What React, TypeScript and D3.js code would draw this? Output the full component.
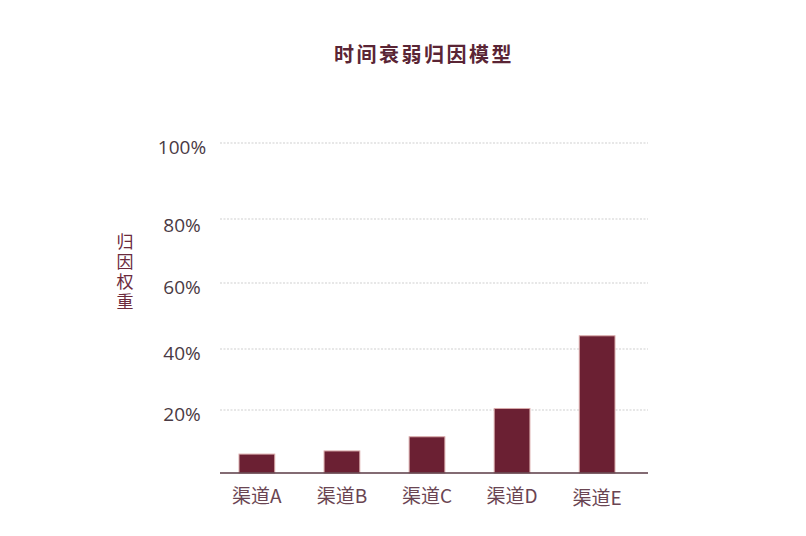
import React from 'react'
import { scaleBand, scaleLinear } from 'd3'

// channel weights under the time-decay attribution model
const channels: string[] = ['渠道A', '渠道B', '渠道C', '渠道D', '渠道E']
const weights: number[] = [6, 7, 11.5, 20.5, 44]
const yTicks: number[] = [20, 40, 60, 80, 100]

const width = 806
const height = 536

const gridLeft = 220
const gridRight = 648
// gridlines in the original are not evenly spaced, so the scale is piecewise
const yScale = scaleLinear()
    .domain([0, 20, 40, 60, 80, 100])
    .range([473, 410, 349, 283, 219, 143])

const xScale = scaleBand()
    .domain(channels)
    .range([222, 632])
    .paddingInner(0.58)
    .paddingOuter(0.2)

const barFill = '#6b2033'
const textColor = '#4a3a44'

export default function App() {
    return (
        <svg width={width} height={height} style={{ display: 'block', position: 'absolute', left: 0, top: 0 }}>
            <rect width={width} height={height} fill='#fff' />
            <text
                x={424}
                y={53}
                textAnchor='middle'
                dominantBaseline='central'
                fontFamily='"Noto Sans CJK SC", sans-serif'
                fontWeight='bold'
                fontSize={20}
                letterSpacing={2.5}
                fill='#5a2535'
            >
                时间衰弱归因模型
            </text>

            {/* gridlines and tick labels */}
            {yTicks.map((t) => (
                <g key={t}>
                    <line
                        x1={gridLeft}
                        x2={gridRight}
                        y1={yScale(t)}
                        y2={yScale(t)}
                        stroke='#cfcfcf'
                        strokeWidth={1}
                        strokeDasharray='2,1.5'
                    />
                    <text
                        x={182}
                        y={yScale(t) + (t === 80 ? 6 : 4)}
                        textAnchor='middle'
                        dominantBaseline='central'
                        fontFamily='"Open Sans", sans-serif'
                        fontSize={19}
                        fill={textColor}
                    >
                        {t}%
                    </text>
                </g>
            ))}

            {/* y axis title, written top to bottom */}
            <text
                x={125}
                y={233}
                fontFamily='"Noto Sans CJK SC", sans-serif'
                fontSize={17}
                letterSpacing={3}
                fill='#6b2a3c'
                style={{ writingMode: 'vertical-rl' }}
            >
                归因权重
            </text>

            {/* bars */}
            {channels.map((c, i) => (
                <rect
                    key={c}
                    x={xScale(c)}
                    y={yScale(weights[i])}
                    width={xScale.bandwidth()}
                    height={yScale(0) - yScale(weights[i])}
                    fill={barFill}
                    stroke='#d9a9a9'
                    strokeWidth={1}
                />
            ))}

            <line x1={gridLeft} x2={gridRight} y1={yScale(0)} y2={yScale(0)} stroke='#5a3a45' strokeWidth={1.5} />

            {/* category labels */}
            {channels.map((c, i) => (
                <text
                    key={c}
                    x={(xScale(c) ?? 0) + xScale.bandwidth() / 2}
                    y={494 + (i === 4 ? 2 : 0)}
                    textAnchor='middle'
                    dominantBaseline='central'
                    fontFamily='"Noto Sans CJK SC", sans-serif'
                    fontSize={19}
                    fill='#6a4552'
                >
                    {c}
                </text>
            ))}
        </svg>
    )
}
